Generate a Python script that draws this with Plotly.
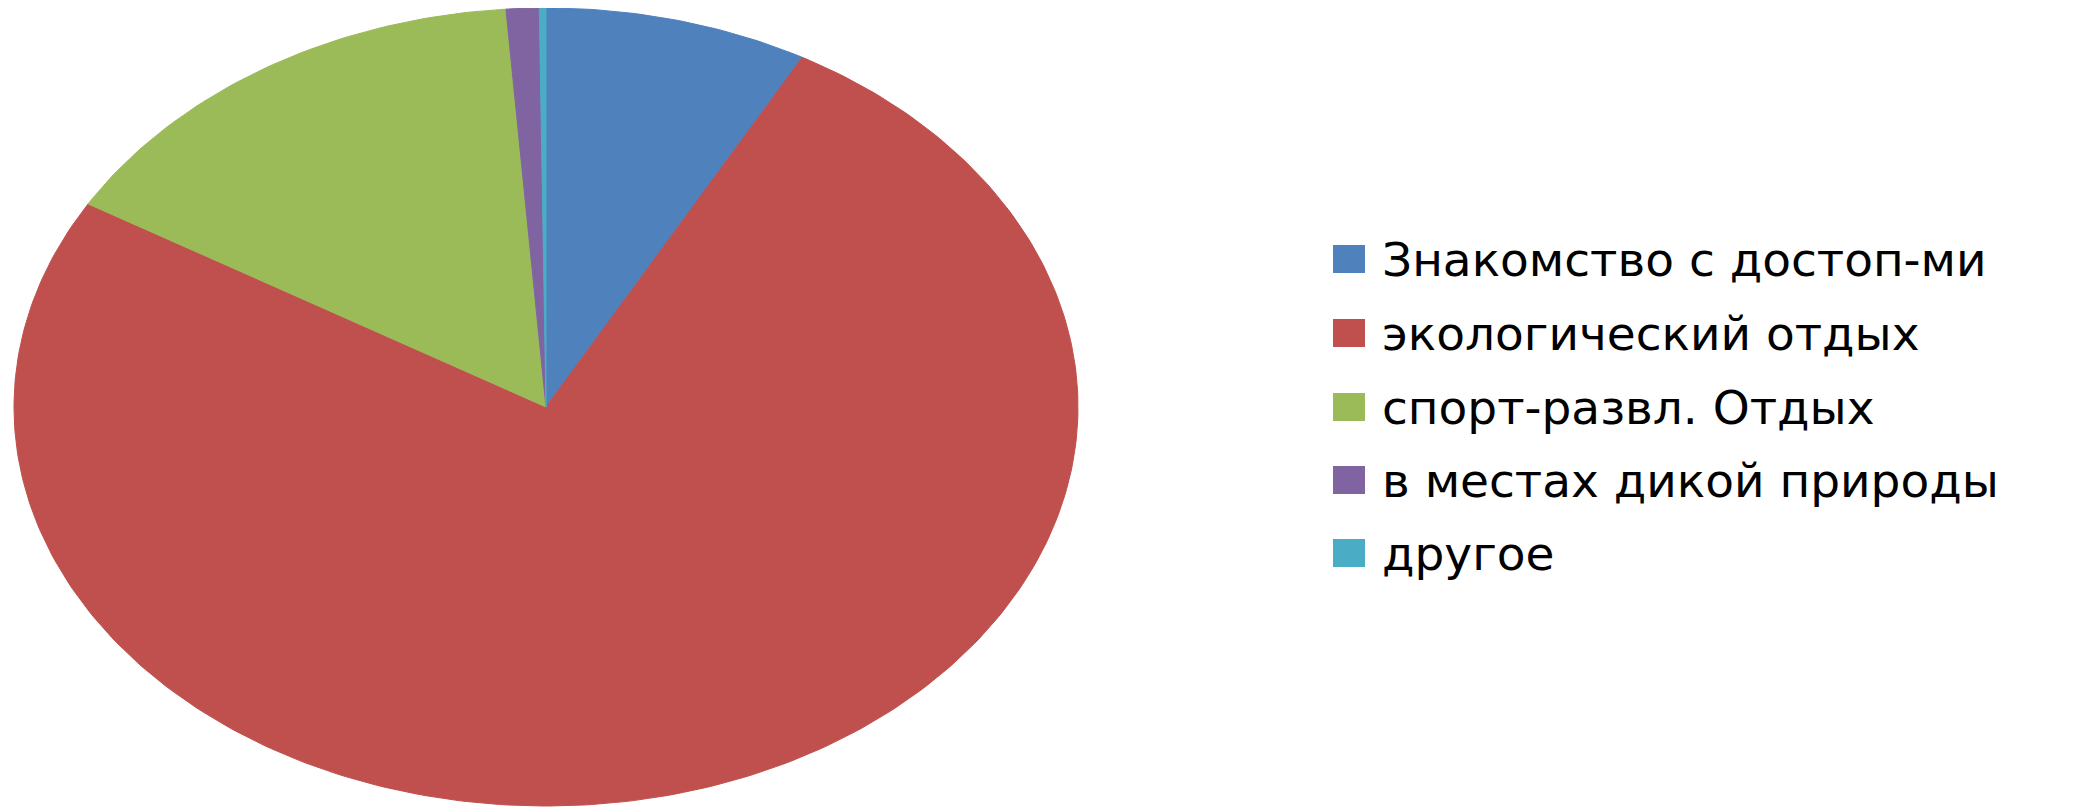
import numpy as np
import plotly.graph_objects as go

labels = ["Знакомство с достоп-ми", "экологический отдых", "спорт-развл. Отдых",
          "в местах дикой природы", "другое"]
values = [8.0, 75.5, 15.3, 1.0, 0.2]
colors = ["#4F81BD", "#C0504D", "#9BBB59", "#8064A2", "#4BACC6"]

W, H = 2098, 810
OFF = 8                       # page body margin compensation
cx_px, cy_px = 546 - OFF, 407 - OFF   # pie centre in pixels (from top-left of figure)
rx_px, ry_px = 532, 399               # ellipse radii in pixels

fig = go.Figure()
total = sum(values)
start = 0.0
for lab, val, col in zip(labels, values, colors):
    a0 = start / total * 2 * np.pi
    a1 = (start + val) / total * 2 * np.pi
    n = max(4, int(400 * val / total))
    th = np.linspace(a0, a1, n)
    xs = np.concatenate([[0], np.sin(th), [0]])
    ys = np.concatenate([[0], np.cos(th), [0]])
    fig.add_trace(go.Scatter(x=xs, y=ys, fill="toself", mode="lines",
                             line=dict(color=col, width=1), fillcolor=col,
                             name=lab, showlegend=False, hoverinfo="name"))
    start += val

# manual legend
row_y = [259, 333, 407, 480, 553]
sq_w, sq_h = 32, 28
for lab, col, yc in zip(labels, colors, row_y):
    yc = yc - OFF
    x0 = 1333 - OFF
    fig.add_shape(type="rect", xref="paper", yref="paper",
                  x0=x0 / W, x1=(x0 + sq_w) / W,
                  y0=1 - (yc + sq_h / 2) / H, y1=1 - (yc - sq_h / 2) / H,
                  fillcolor=col, line=dict(width=0))
    fig.add_annotation(xref="paper", yref="paper", x=(1380 - OFF) / W, y=1 - yc / H,
                       xanchor="left", yanchor="middle", text=lab, showarrow=False,
                       font=dict(family="DejaVu Sans", size=47, color="#000000"))

fig.update_xaxes(range=[-cx_px / rx_px, (W - cx_px) / rx_px], visible=False, domain=[0, 1])
fig.update_yaxes(range=[-(H - cy_px) / ry_px, cy_px / ry_px], visible=False, domain=[0, 1])
fig.update_layout(width=W, height=H, margin=dict(l=0, r=0, t=0, b=0),
                  paper_bgcolor="white", plot_bgcolor="white", showlegend=False)
fig.write_html("out.html")
